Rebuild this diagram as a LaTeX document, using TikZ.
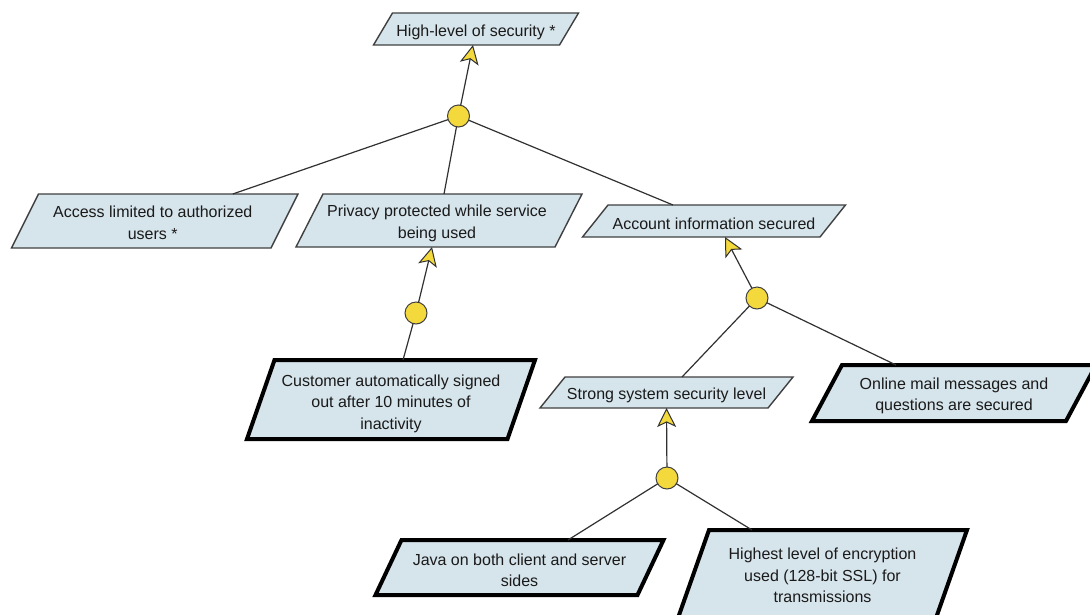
\documentclass[tikz,border=0pt]{standalone}
\usepackage{fontspec}
\setmainfont{Liberation Sans}
\usetikzlibrary{arrows.meta}

\definecolor{boxfill}{HTML}{D6E4EB}
\definecolor{boxline}{HTML}{404040}
\definecolor{dotfill}{HTML}{F4D93C}
\definecolor{inkgray}{HTML}{1A1A1A}

\tikzset{
  goalframe/.style={inner sep=0pt, outer sep=0pt},
  goaltext/.style={inner sep=0pt, outer sep=0pt, align=center, text=inkgray,
    font=\fontsize{16}{21.5}\selectfont},
  thinframe/.style={draw=boxline, line width=1.4pt, fill=boxfill, line join=miter},
  thickframe/.style={draw=black, line width=4pt, fill=boxfill, line join=miter},
  andnode/.style={circle, draw=boxline, line width=1pt, fill=dotfill,
    minimum size=22pt, inner sep=0pt, outer sep=0pt},
  link/.style={draw=inkgray!90, line width=1.2pt},
  contrib/.style={link, -{Stealth[length=19pt, width=19pt, inset=4.5pt, fill=dotfill, line width=1pt]}},
}

% parallelogram round a goal frame: #1 node, #2 horizontal slant, #3 frame style
\newcommand\slantframe[3]{%
  \path[#3] ([xshift=-#2/2]#1.south west) -- ([xshift=-#2/2]#1.south east)
    -- ([xshift=#2/2]#1.north east) -- ([xshift=#2/2]#1.north west) -- cycle;}

\begin{document}
\begin{tikzpicture}[x=1pt, y=-1pt]
  \fill[white] (0,0) rectangle (1090,614);
  \useasboundingbox (0,0) rectangle (1090,614);

  % goal frames
  \node[goalframe, minimum width=186, minimum height=32] (high) at (476,29) {};
  \node[goalframe, minimum width=259.5, minimum height=54] (access) at (154.75,221) {};
  \node[goalframe, minimum width=259, minimum height=53] (privacy) at (439,220.5) {};
  \node[goalframe, minimum width=237.5, minimum height=32] (account) at (714,221) {};
  \node[goalframe, minimum width=260.5, minimum height=79] (customer) at (391,399.5) {};
  \node[goalframe, minimum width=228, minimum height=31] (strong) at (666.5,392.5) {};
  \node[goalframe, minimum width=254, minimum height=56] (online) at (954,393) {};
  \node[goalframe, minimum width=262, minimum height=55] (java) at (519.5,567.5) {};
  \node[goalframe, minimum width=258, minimum height=88] (highest) at (822.5,574) {};

  \slantframe{high}{19}{thinframe}
  \slantframe{access}{27}{thinframe}
  \slantframe{privacy}{27}{thinframe}
  \slantframe{account}{25.5}{thinframe}
  \slantframe{customer}{27.5}{thickframe}
  \slantframe{strong}{25}{thinframe}
  \slantframe{online}{30}{thickframe}
  \slantframe{java}{26}{thickframe}
  \slantframe{highest}{31}{thickframe}

  % goal texts
  \node[goaltext] (high-t) at ([yshift=-3]high.center) {High-level of security *};
  \node[goaltext] (access-t) at ([xshift=-2,yshift=-2]access.center)
    {Access limited to authorized\\users *};
  \node[goaltext] (privacy-t) at ([xshift=-2,yshift=-3]privacy.center)
    {Privacy protected while service\\being used};
  \node[goaltext] (account-t) at ([yshift=-2.5]account.center)
    {Account information secured};
  \node[goaltext] (customer-t) at ([yshift=-4]customer.center)
    {Customer automatically signed\\out after 10 minutes of\\inactivity};
  \node[goaltext] (strong-t) at ([yshift=-3]strong.center)
    {Strong system security level};
  \node[goaltext] (online-t) at ([yshift=-3]online.center)
    {Online mail messages and\\questions are secured};
  \node[goaltext] (java-t) at ([yshift=-3]java.center)
    {Java on both client and server\\sides};
  \node[goaltext] (highest-t) at ([yshift=-1.5]highest.center)
    {Highest level of encryption\\used (128-bit SSL) for\\transmissions};

  % decomposition points
  \node[andnode] (c1) at (458.5,116) {};
  \node[andnode] (c2) at (416,313) {};
  \node[andnode] (c3) at (757,298) {};
  \node[andnode] (c4) at (667,478) {};

  % links
  \draw[contrib] (c1) -- ([xshift=-3]high.south);
  \draw[link] (c1) -- ([xshift=78]access.north);
  \draw[link] (c1) -- ([xshift=5]privacy.north);
  \draw[link] (c1) -- ([xshift=-41]account.north);

  \draw[contrib] (c2) -- ([xshift=-7]privacy.south);
  \draw[link] (c2) -- ([xshift=12]customer.north);

  \draw[contrib] (c3) -- ([xshift=11]account.south);
  \draw[link] (c3) -- ([xshift=15.5]strong.north);
  \draw[link] (c3) -- ([xshift=-58]online.north);

  \draw[contrib] (c4) -- ([xshift=0]strong.south);
  \draw[link] (c4) -- ([xshift=48.5]java.north);
  \draw[link] (c4) -- ([xshift=-70.5]highest.north);
\end{tikzpicture}
\end{document}
